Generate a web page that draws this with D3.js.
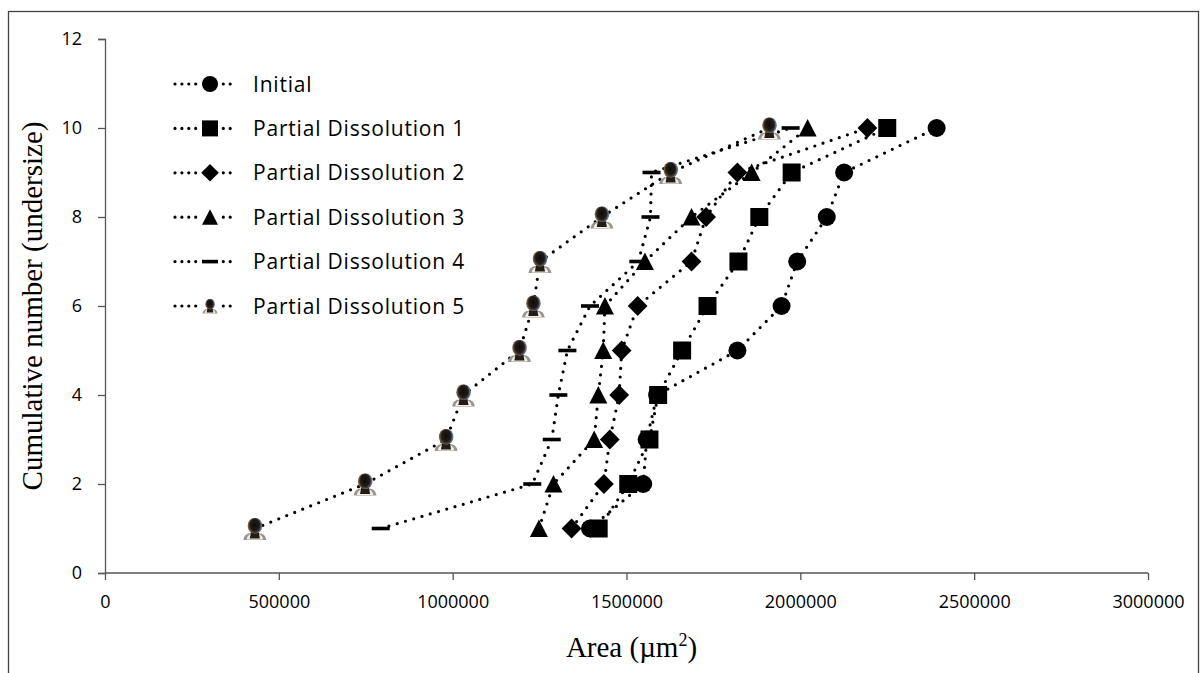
<!DOCTYPE html>
<html>
<head>
<meta charset="utf-8">
<script src="https://cdn.jsdelivr.net/npm/d3@7"></script>
<style>
  html, body { margin: 0; padding: 0; background: #fff; }
  svg { display: block; }
  .tick text { font-family: "Open Sans", Lato, sans-serif; }
</style>
</head>
<body>
<svg id="chart" width="1201" height="673"></svg>
<script>
// Cumulative (undersize) count of particles versus particle area
const counts = [1, 2, 3, 4, 5, 6, 7, 8, 9, 10];
const initial = [1395000, 1548000, 1558000, 1588000, 1819000, 1946000, 1991000, 2076000, 2126000, 2392000];
const partial1 = [1420000, 1505000, 1566000, 1591000, 1660000, 1733000, 1822000, 1882000, 1975000, 2250000];
const partial2 = [1342000, 1435000, 1452000, 1479000, 1486000, 1532000, 1687000, 1729000, 1819000, 2193000];
const partial3 = [1248000, 1290000, 1407000, 1419000, 1433000, 1438000, 1553000, 1687000, 1860000, 2021000];
const partial4 = [793000, 1229000, 1285000, 1304000, 1330000, 1395000, 1534000, 1569000, 1572000, 1972000];
const partial5 = [431000, 748000, 981000, 1031000, 1192000, 1232000, 1251000, 1429000, 1627000, 1911000];
const seriesNames = ["Initial", "Partial Dissolution 1", "Partial Dissolution 2",
                     "Partial Dissolution 3", "Partial Dissolution 4", "Partial Dissolution 5"];
const xTicks = [0, 500000, 1000000, 1500000, 2000000, 2500000, 3000000];
const yTicks = [0, 2, 4, 6, 8, 10, 12];

const series = [
  { name: seriesNames[0], values: initial, marker: "circle" },
  { name: seriesNames[1], values: partial1, marker: "square" },
  { name: seriesNames[2], values: partial2, marker: "diamond" },
  { name: seriesNames[3], values: partial3, marker: "triangle" },
  { name: seriesNames[4], values: partial4, marker: "dash" },
  { name: seriesNames[5], values: partial5, marker: "bust" }
];

const svg = d3.select("#chart");
const plot = { left: 105, right: 1148, top: 39, bottom: 573 };

const x = d3.scaleLinear().domain([0, 3000000]).range([plot.left, plot.right]);
const y = d3.scaleLinear().domain([0, 12]).range([plot.bottom, plot.top]);

// blur used by the photo-like bust marker
const defs = svg.append("defs");
defs.append("filter").attr("id", "soft")
  .attr("x", "-30%").attr("y", "-30%").attr("width", "160%").attr("height", "160%")
  .append("feGaussianBlur").attr("stdDeviation", 0.75);
const hg = defs.append("radialGradient").attr("id", "headGrad")
  .attr("cx", "50%").attr("cy", "45%").attr("r", "60%");
hg.append("stop").attr("offset", "0%").attr("stop-color", "#0e0c0b");
hg.append("stop").attr("offset", "60%").attr("stop-color", "#1f1a17");
hg.append("stop").attr("offset", "100%").attr("stop-color", "#6b5a4a");

// chart frame
svg.append("rect")
  .attr("x", 8.5).attr("y", 11.5).attr("width", 1190).attr("height", 700)
  .attr("fill", "none").attr("stroke", "#444").attr("stroke-width", 1.3);

// axes
const xAxis = d3.axisBottom(x).tickValues(xTicks).tickFormat(d3.format("d")).tickSizeOuter(0).tickSize(7).tickPadding(15);
const yAxis = d3.axisLeft(y).tickValues(yTicks).tickFormat(d3.format("d")).tickSizeOuter(0).tickSize(7).tickPadding(16);

const gx = svg.append("g").attr("transform", `translate(0,${plot.bottom})`).call(xAxis);
const gy = svg.append("g").attr("transform", `translate(${plot.left},0)`).call(yAxis);
[gx, gy].forEach(g => {
  g.select(".domain").attr("stroke", "#555").attr("stroke-width", 1.3);
  g.selectAll(".tick line").attr("stroke", "#555").attr("stroke-width", 1.3);
  g.selectAll(".tick text").attr("fill", "#000").attr("font-size", 18);
});
gx.select(".domain").attr("d", `M${plot.left},0H${plot.right}`);

// axis titles
svg.append("text")
  .attr("x", (plot.left + plot.right) / 2 + 5).attr("y", 657)
  .attr("text-anchor", "middle")
  .attr("font-family", "'Liberation Serif', 'Times New Roman', serif")
  .attr("font-size", 29)
  .html("Area (µm<tspan dy='-11' font-size='18'>2</tspan><tspan dy='11'>)</tspan>");

svg.append("text")
  .attr("transform", `translate(42,${(plot.top + plot.bottom) / 2}) rotate(-90)`)
  .attr("text-anchor", "middle")
  .attr("font-family", "'Liberation Serif', 'Times New Roman', serif")
  .attr("font-size", 29)
  .text("Cumulative number (undersize)");

// marker painter
function drawMarker(g, type, s) {
  if (type === "circle") {
    g.append("circle").attr("r", s / 2).attr("fill", "#000");
  } else if (type === "square") {
    g.append("rect").attr("x", -s / 2).attr("y", -s / 2).attr("width", s).attr("height", s).attr("fill", "#000");
  } else if (type === "diamond") {
    const h = s * 0.55;
    g.append("path").attr("d", `M0,${-h}L${h},0L0,${h}L${-h},0Z`).attr("fill", "#000");
  } else if (type === "triangle") {
    const h = s * 0.5;
    g.append("path").attr("d", `M0,${-h}L${h},${h * 0.95}L${-h},${h * 0.95}Z`).attr("fill", "#000");
  } else if (type === "dash") {
    g.append("rect").attr("x", -s / 2).attr("y", -1.8).attr("width", s).attr("height", 3.6).attr("fill", "#000");
  } else if (type === "bust") {
    const b = g.append("g").attr("filter", "url(#soft)");
    // shoulders
    b.append("path")
      .attr("d", `M${-s * 0.5},${s * 0.5} Q${-s * 0.45},${s * 0.18} ${-s * 0.12},${s * 0.2}
                  L${s * 0.12},${s * 0.2} Q${s * 0.45},${s * 0.18} ${s * 0.5},${s * 0.5} Z`)
      .attr("fill", "#9a958e");
    b.append("path")
      .attr("d", `M${-s * 0.36},${s * 0.48} Q${-s * 0.3},${s * 0.22} ${-s * 0.1},${s * 0.24}
                  L${s * 0.1},${s * 0.24} Q${s * 0.3},${s * 0.22} ${s * 0.36},${s * 0.48} Z`)
      .attr("fill", "#f4efe6");
    // neck and chest
    b.append("path")
      .attr("d", `M${-s * 0.15},${s * 0.05} L${s * 0.15},${s * 0.05} L${s * 0.22},${s * 0.44} L${-s * 0.22},${s * 0.44} Z`)
      .attr("fill", "#221d19");
    // head, with warm and cool rims
    b.append("ellipse").attr("cx", -s * 0.03).attr("cy", -s * 0.12).attr("rx", s * 0.28).attr("ry", s * 0.34).attr("fill", "#7a5a3a");
    b.append("ellipse").attr("cx", s * 0.04).attr("cy", -s * 0.12).attr("rx", s * 0.28).attr("ry", s * 0.34).attr("fill", "#5a6f92");
    b.append("ellipse").attr("cx", 0).attr("cy", -s * 0.12).attr("rx", s * 0.26).attr("ry", s * 0.33).attr("fill", "url(#headGrad)");
  }
}

const markerSize = { circle: 18, square: 18, diamond: 18, triangle: 18, dash: 18, bust: 23 };
const lineGen = d3.line().x(d => x(d.v)).y(d => y(d.c));

series.forEach(sr => {
  const pts = sr.values.map((v, i) => ({ v, c: counts[i] }));
  const g = svg.append("g");
  g.append("path")
    .attr("d", lineGen(pts))
    .attr("fill", "none").attr("stroke", "#000")
    .attr("stroke-width", 3.2).attr("stroke-linecap", "round")
    .attr("stroke-dasharray", "0,8.6");
  g.selectAll("g.m").data(pts).join("g")
    .attr("class", "m")
    .attr("transform", d => `translate(${x(d.v)},${y(d.c)})`)
    .each(function () { drawMarker(d3.select(this), sr.marker, markerSize[sr.marker]); });
});

// legend
const legendRowY = d3.scaleLinear().domain([0, 5]).range([84, 306]);
const lg = svg.append("g");
series.forEach((sr, i) => {
  const ry = legendRowY(i);
  const row = lg.append("g").attr("transform", `translate(0,${ry})`);
  row.append("line")
    .attr("x1", 175).attr("x2", 236).attr("y1", 0).attr("y2", 0)
    .attr("stroke", "#000").attr("stroke-width", 3.2).attr("stroke-linecap", "round")
    .attr("stroke-dasharray", "0,6.9");
  row.append("rect").attr("x", 200).attr("y", -9).attr("width", 20).attr("height", 18).attr("fill", "#fff");
  const m = row.append("g").attr("transform", "translate(210,0)");
  drawMarker(m, sr.marker, sr.marker === "bust" ? 15 : 16);
  row.append("text")
    .attr("x", 253).attr("y", 0).attr("dy", "0.36em")
    .attr("font-family", "'Open Sans', Lato, sans-serif")
    .attr("font-size", 21)
    .attr("letter-spacing", 0.8)
    .text(sr.name);
});
</script>
</body>
</html>
